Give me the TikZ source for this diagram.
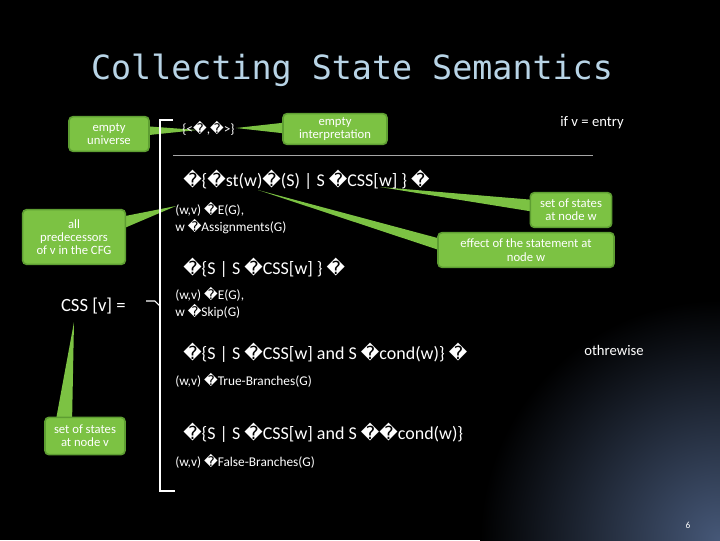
\documentclass[tikz,border=0pt]{standalone}
\usepackage{fontspec}
\setmainfont{Carlito}
\newfontfamily\djfont{DejaVu Sans}
\newfontfamily\monofont{DejaVu Sans Mono}
\newcommand{\bx}{{\djfont\char"FFFD}}
\definecolor{gr}{HTML}{7CC243}
\definecolor{grd}{HTML}{5E9E32}
\definecolor{ttl}{HTML}{B8D4E6}
\begin{document}
\begin{tikzpicture}[x=0.75pt,y=-0.75pt,
  call/.style={fill=gr,draw=grd,line width=1.2pt,rounded corners=3pt,text=white,align=center,font=\fontsize{9.5}{10}\selectfont,inner sep=2pt},
  wedge/.style={fill=gr,draw=none},
  big/.style={text=white,anchor=west,font=\fontsize{13.5}{15}\selectfont,inner sep=0pt},
  sm/.style={text=white,anchor=west,align=left,font=\fontsize{10}{12.5}\selectfont,inner sep=0pt}]
\useasboundingbox (0,0) rectangle (720,540);
\fill[black] (0,0) rectangle (720,540);
\begin{scope}
\clip (0,0) rectangle (720,540);
\shade[inner color={rgb,255:red,70;green,88;blue,120},outer color=black] (720,540) circle [radius=180pt];
\end{scope}
\node[text=ttl,font=\monofont\fontsize{25}{28}\selectfont] (title) at (352,70) {Collecting State Semantics};
\coordinate (tU) at (197,130);
\coordinate (tI) at (236,128);
\coordinate (tW) at (380,187);
\coordinate (tE) at (258,190);
\coordinate (tP) at (176,206);
\coordinate (tV) at (74,322);
\fill[wedge] (130,125) -- (tU) -- (130,137) -- cycle;
\fill[wedge] (290,122) -- (tI) -- (290,134) -- cycle;
\fill[wedge] (535,200) -- (tW) -- (535,212) -- cycle;
\fill[wedge] (445,240) -- (tE) -- (445,252) -- cycle;
\fill[wedge] (115,218) -- (tP) -- (115,232) -- cycle;
\fill[wedge] (55,425) -- (tV) -- (72,425) -- cycle;
\node[call,minimum width=60pt,minimum height=26pt] (eu) at (109,134) {empty\\universe};
\node[call,minimum width=78pt,minimum height=23pt] (ei) at (335,129) {empty\\interpretation};
\node[call,minimum width=61pt,minimum height=26pt] (sw) at (571,210) {set of states\\at node w};
\node[call,minimum width=132pt,minimum height=26pt] (ef) at (526,250) {effect of the statement  at\\node w};
\node[call,minimum width=77pt,minimum height=41pt] (ap) at (74,237) {all\\predecessors\\of v in the CFG};
\node[call,minimum width=60pt,minimum height=28pt] (sv) at (85,436) {set of states\\at node v};
\coordinate (b1) at (173,120); \coordinate (b2) at (160,120);
\coordinate (b3) at (160,491); \coordinate (b4) at (175,491);
\coordinate (m1) at (146,301); \coordinate (m2) at (160,306);
\draw[white,line width=0.8pt] (b1) -- (b2) -- (b3) -- (b4);
\draw[white,line width=0.8pt] (m1) -- (155,301) -- (m2);
\draw[gray!70,line width=0.6pt] (173,155) -- (593,155);
\node[big,anchor=east,font=\fontsize{14}{16}\selectfont] (css) at (126,306) {CSS [v] =};
\node[sm] (l0) at (182,128) {\{<\bx,\bx>\}};
\node[text=white,font=\fontsize{11}{13}\selectfont] (ifv) at (592,123) {if v = entry};
\node[big] (l1) at (183,180) {\bx\{\bx st(w)\bx(S) | S \bx CSS[w] \} \bx};
\node[sm] (s1) at (175,218) {(w,v) \bx E(G),\\w \bx Assignments(G)};
\node[big] (l2) at (183,268) {\bx\{S | S \bx CSS[w] \} \bx};
\node[sm] (s2) at (175,303) {(w,v) \bx E(G),\\w \bx Skip(G)};
\node[big] (l3) at (183,353) {\bx\{S | S \bx CSS[w]  and S \bx cond(w)\} \bx};
\node[text=white,font=\fontsize{11}{13}\selectfont] (oth) at (614,350) {othrewise};
\node[sm] (s3) at (175,380) {(w,v) \bx True-Branches(G)};
\node[big] (l4) at (183,433) {\bx\{S | S \bx CSS[w]  and S \bx\bx cond(w)\}};
\node[sm] (s4) at (175,461) {(w,v) \bx False-Branches(G)};
\node[text=white,font=\fontsize{7}{8}\selectfont] (pg) at (688,525) {6};
\end{tikzpicture}
\end{document}
